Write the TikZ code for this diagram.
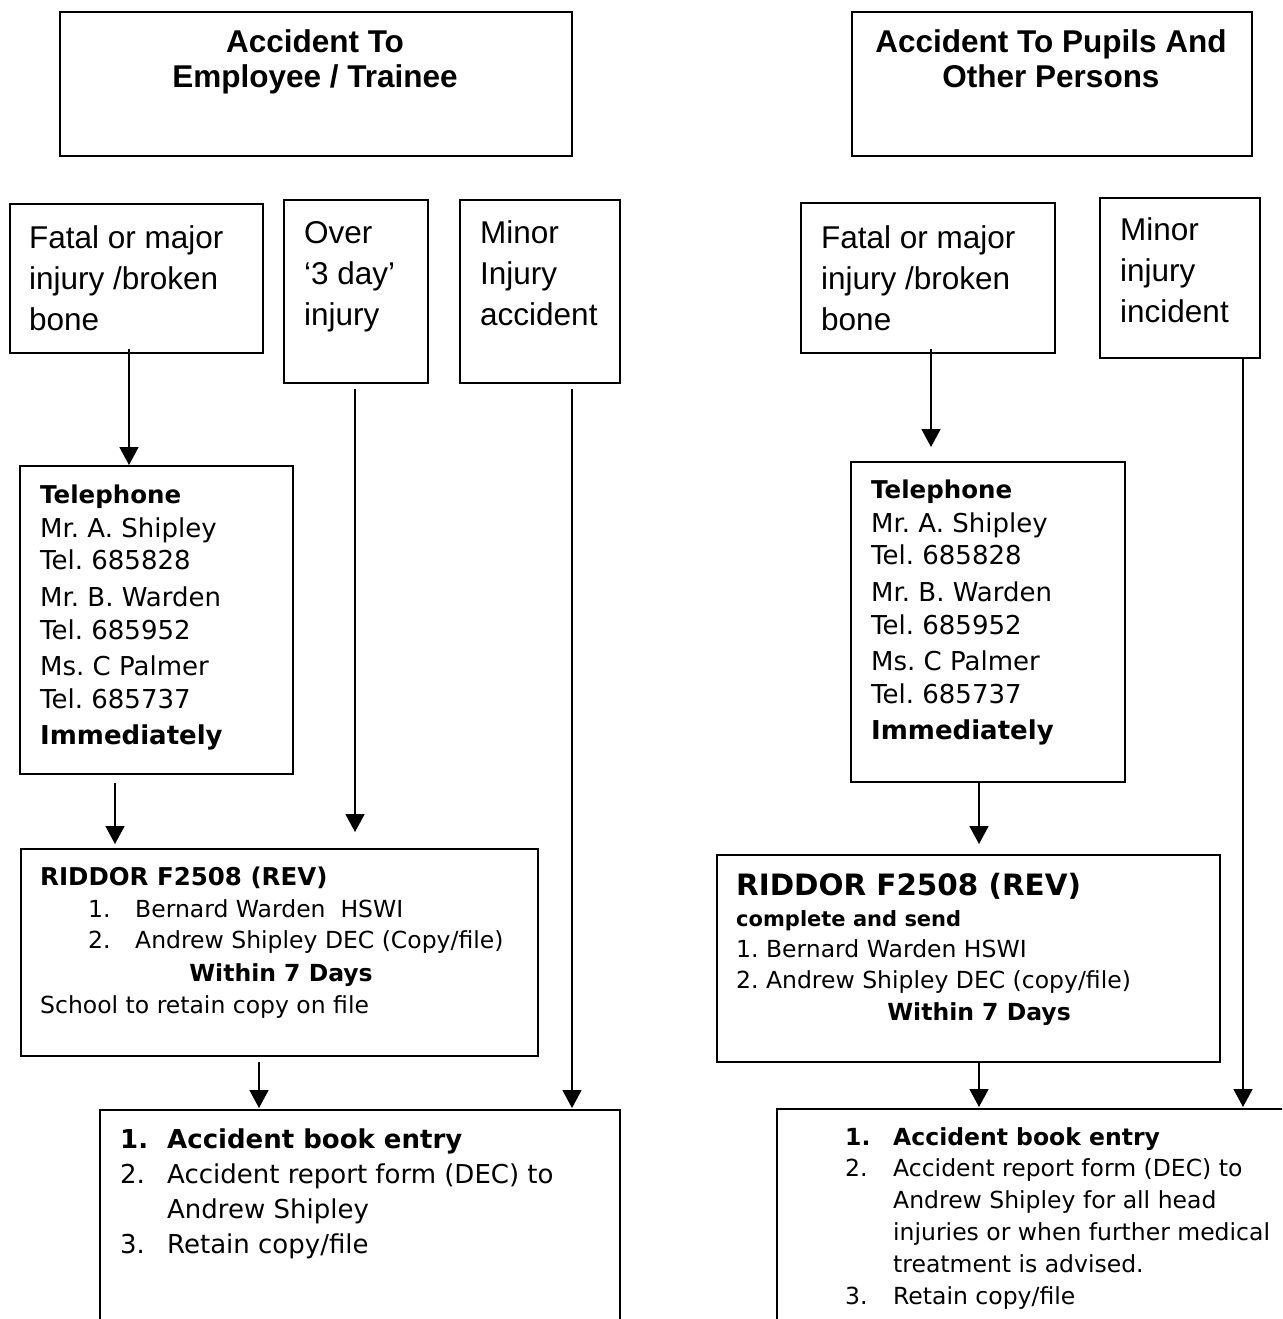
\documentclass[tikz,border=0pt]{standalone}
\usepackage{fontspec}
\setmainfont{Liberation Sans}
\newfontfamily\vf{DejaVu Sans}
\usetikzlibrary{arrows.meta}
\frenchspacing
\begin{document}
\begin{tikzpicture}[x=1pt,y=-1pt,
  box/.style={draw, line width=1.8pt, inner sep=0pt, anchor=north west},
  arr/.style={line width=1.8pt, -{Triangle[width=19pt,length=18pt]}},
  txt/.style={inner sep=0pt, anchor=base west, align=left},
  ttl/.style={inner sep=0pt, anchor=base, align=center, font=\bfseries\fontsize{31.5}{35.5}\selectfont},
  big/.style={txt, font=\fontsize{31.5}{41}\selectfont},
  tel/.style={txt, font=\vf\fontsize{26}{33}\selectfont}]
\useasboundingbox (0,0) rectangle (1282,1319);
\clip (0,0) rectangle (1282,1319);
\fill[white] (0,0) rectangle (1282,1319);

% ---------- boxes ----------
\node[box, minimum width=512pt, minimum height=144pt] (boxA) at (59,11) {};
\node[box, minimum width=253pt, minimum height=149pt] (fatalL) at (9,203) {};
\node[box, minimum width=144pt, minimum height=183pt] (overL) at (283,199) {};
\node[box, minimum width=160pt, minimum height=183pt] (minorL) at (459,199) {};
\node[box, minimum width=273pt, minimum height=308pt] (teleL) at (19,465) {};
\node[box, minimum width=517pt, minimum height=207pt] (riddorL) at (20,848) {};
\node[box, minimum width=520pt, minimum height=300pt] (bookL) at (99,1109) {};

\node[box, minimum width=400pt, minimum height=144pt] (boxB) at (851,11) {};
\node[box, minimum width=254pt, minimum height=150pt] (fatalR) at (800,202) {};
\node[box, minimum width=160pt, minimum height=160pt] (minorR) at (1099,197) {};
\node[box, minimum width=274pt, minimum height=320pt] (teleR) at (850,461) {};
\node[box, minimum width=503pt, minimum height=207pt] (riddorR) at (716,854) {};
\node[box, minimum width=600pt, minimum height=300pt] (bookR) at (776,1108) {};

% ---------- texts (multi-line nodes: base = last line) ----------
\node[ttl] (tA) at (315,88) {Accident To\\Employee / Trainee};
\node[ttl] (tB) at (1051,88) {Accident To Pupils And\\Other Persons};

\node[big] (tFatalL) at (29,330) {Fatal or major\\injury /broken\\bone};
\node[big] (tOverL) at (304,325) {Over\\`3 day'\\injury};
\node[big] (tMinorL) at (480,325) {Minor\\Injury\\accident};
\node[big] (tFatalR) at (821,330) {Fatal or major\\injury /broken\\bone};
\node[big] (tMinorR) at (1120,322) {Minor\\injury\\incident};

\node[tel] (tTeleL) at (40,744) {{\bfseries\fontsize{24.5}{33}\selectfont Telephone}\\[1pt]
  Mr. A. Shipley\\[-1pt] Tel. 685828\\[4pt] Mr. B. Warden\\[0pt] Tel. 685952\\[3pt]
  Ms. C Palmer\\[0pt] Tel. 685737\\[3pt] {\bfseries Immediately}};
\node[tel] (tTeleR) at (871,739) {{\bfseries\fontsize{24.5}{33}\selectfont Telephone}\\[1pt]
  Mr. A. Shipley\\[-1pt] Tel. 685828\\[4pt] Mr. B. Warden\\[0pt] Tel. 685952\\[3pt]
  Ms. C Palmer\\[0pt] Tel. 685737\\[3pt] {\bfseries Immediately}};

\node[txt, font=\vf\bfseries\fontsize{24.5}{32}\selectfont] (rL1) at (40,885) {RIDDOR F2508 (REV)};
\node[txt, font=\vf\fontsize{23.5}{31}\selectfont] (rL2) at (88,948)
  {\makebox[47pt][l]{1.}Bernard Warden\ \ HSWI\\\makebox[47pt][l]{2.}Andrew Shipley DEC (Copy/file)};
\node[txt, anchor=base, font=\vf\bfseries\fontsize{23.5}{31}\selectfont] (rL3) at (281,981) {Within 7 Days};
\node[txt, font=\vf\fontsize{23.5}{31}\selectfont] (rL4) at (40,1013) {School to retain copy on file};

\node[txt, font=\vf\bfseries\fontsize{29.4}{32}\selectfont] (rR1) at (736,895) {RIDDOR F2508 (REV)};
\node[txt, font=\vf\bfseries\fontsize{21}{31}\selectfont] (rR2) at (736,926) {complete and send};
\node[txt, font=\vf\fontsize{23.5}{31}\selectfont] (rR3) at (736,988)
  {1. Bernard Warden HSWI\\2. Andrew Shipley DEC (copy/file)};
\node[txt, anchor=base, font=\vf\bfseries\fontsize{23.5}{31}\selectfont] (rR4) at (979,1020) {Within 7 Days};

\node[txt, font=\vf\fontsize{26}{35}\selectfont] (bL) at (120,1253)
  {{\bfseries\makebox[47pt][l]{1.}Accident book entry}\\
   \makebox[47pt][l]{2.}Accident report form (DEC) to\\
   \hspace*{47pt}Andrew Shipley\\
   \makebox[47pt][l]{3.}Retain copy/file};
\node[txt, font=\vf\fontsize{23.5}{31.8}\selectfont] (bR) at (845,1304)
  {{\bfseries\makebox[48pt][l]{1.}Accident book entry}\\
   \makebox[48pt][l]{2.}Accident report form (DEC) to\\
   \hspace*{48pt}Andrew Shipley for all head\\
   \hspace*{48pt}injuries or when further medical\\
   \hspace*{48pt}treatment is advised.\\
   \makebox[48pt][l]{3.}Retain copy/file};

% ---------- connectors ----------
\coordinate (xa) at (129,0);
\coordinate (xb) at (355,0);
\coordinate (xc) at (572,0);
\coordinate (xd) at (115,0);
\coordinate (xe) at (259,0);
\coordinate (xf) at (931,0);
\coordinate (xg) at (979,0);
\coordinate (xh) at (1243,0);

\draw[arr, shorten <=-5pt] (fatalL.south -| xa) -- (teleL.north -| xa);
\draw[arr, shorten <=5pt, shorten >=16pt] (overL.south -| xb) -- (riddorL.north -| xb);
\draw[arr, shorten <=5pt, shorten >=1pt] (minorL.south -| xc) -- (bookL.north -| xc);
\draw[arr, shorten <=8pt, shorten >=4pt] (teleL.south -| xd) -- (riddorL.north -| xd);
\draw[arr, shorten <=5pt, shorten >=1pt] (riddorL.south -| xe) -- (bookL.north -| xe);

\draw[arr, shorten <=-5pt, shorten >=14pt] (fatalR.south -| xf) -- (teleR.north -| xf);
\draw[arr, shorten >=10pt] (teleR.south -| xg) -- (riddorR.north -| xg);
\draw[arr, shorten >=1pt] (riddorR.south -| xg) -- (bookR.north -| xg);
\draw[arr, shorten >=1pt] (minorR.south -| xh) -- (bookR.north -| xh);
\end{tikzpicture}
\end{document}
